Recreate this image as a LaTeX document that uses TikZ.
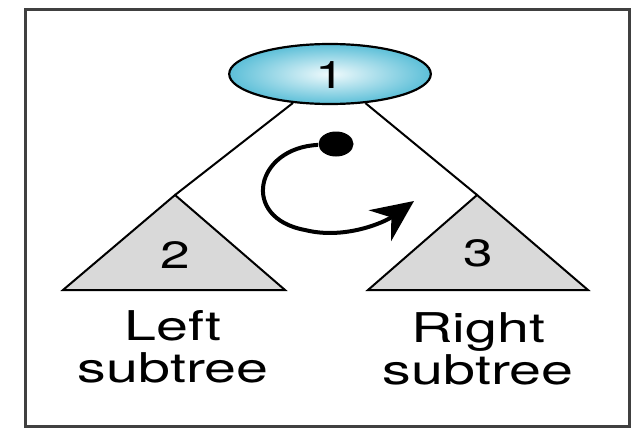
\documentclass[tikz,border=0pt]{standalone}
\usepackage{fontspec}
\setmainfont{TeX Gyre Heros}
\usepackage{tikz}
\usetikzlibrary{shapes.geometric, arrows.meta, positioning}

\definecolor{rootblue}{HTML}{5CBFD8}
\definecolor{rootpale}{HTML}{F0FAFC}

\begin{document}
\begin{tikzpicture}[
  x=0.35714pt, y=-0.5pt, xscale=1.4, transform shape,
  frame/.style={draw=black!75, line width=1.5pt},
  root/.style={ellipse, draw, line width=1.1pt, minimum width=72pt,
               minimum height=30pt, inner sep=0pt,
               inner color=rootpale, outer color=rootblue},
  subtree/.style={draw, line width=1pt, fill=black!15, line join=miter},
  edge/.style={line width=1pt},
  num/.style={font=\fontsize{19}{19}\selectfont},
  caption/.style={align=center, inner sep=0pt,
                  font=\fontsize{20.5}{21}\selectfont},
  dot/.style={circle, fill=black, minimum size=12.5pt, inner sep=0pt},
  curl/.style={line width=2pt, -{Stealth[length=21pt, width=19pt, inset=7pt]}}
]
\useasboundingbox (0,0) rectangle (633,428);
\draw[frame] (25,9) rectangle (629,426);

\node[root] (n1) at (330,74) {};
\node[num] (one) at (330,75) {1};

% left and right subtrees
\coordinate (ltop) at (175,195);
\coordinate (rtop) at (477,195);
\draw[subtree] (ltop) -- (63,290) -- (285,290) -- cycle;
\draw[subtree] (rtop) -- (368,290) -- (588,290) -- cycle;
\node[num] (two) at (175,255) {2};
\node[num] (three) at (478,253) {3};

\draw[edge] (n1) -- (ltop);
\draw[edge] (n1) -- (rtop);

\node[caption, anchor=north] (lcap) at (173,310) {Left\\subtree};
\node[caption, anchor=north] (rcap) at (478,312) {Right\\subtree};

% traversal order
\node[dot] (start) at (336,144) {};
\draw[curl] (start) .. controls (255,148) and (240,218) .. (305,230)
                    .. controls (345,240) and (385,222) .. (414,201);
\end{tikzpicture}
\end{document}
